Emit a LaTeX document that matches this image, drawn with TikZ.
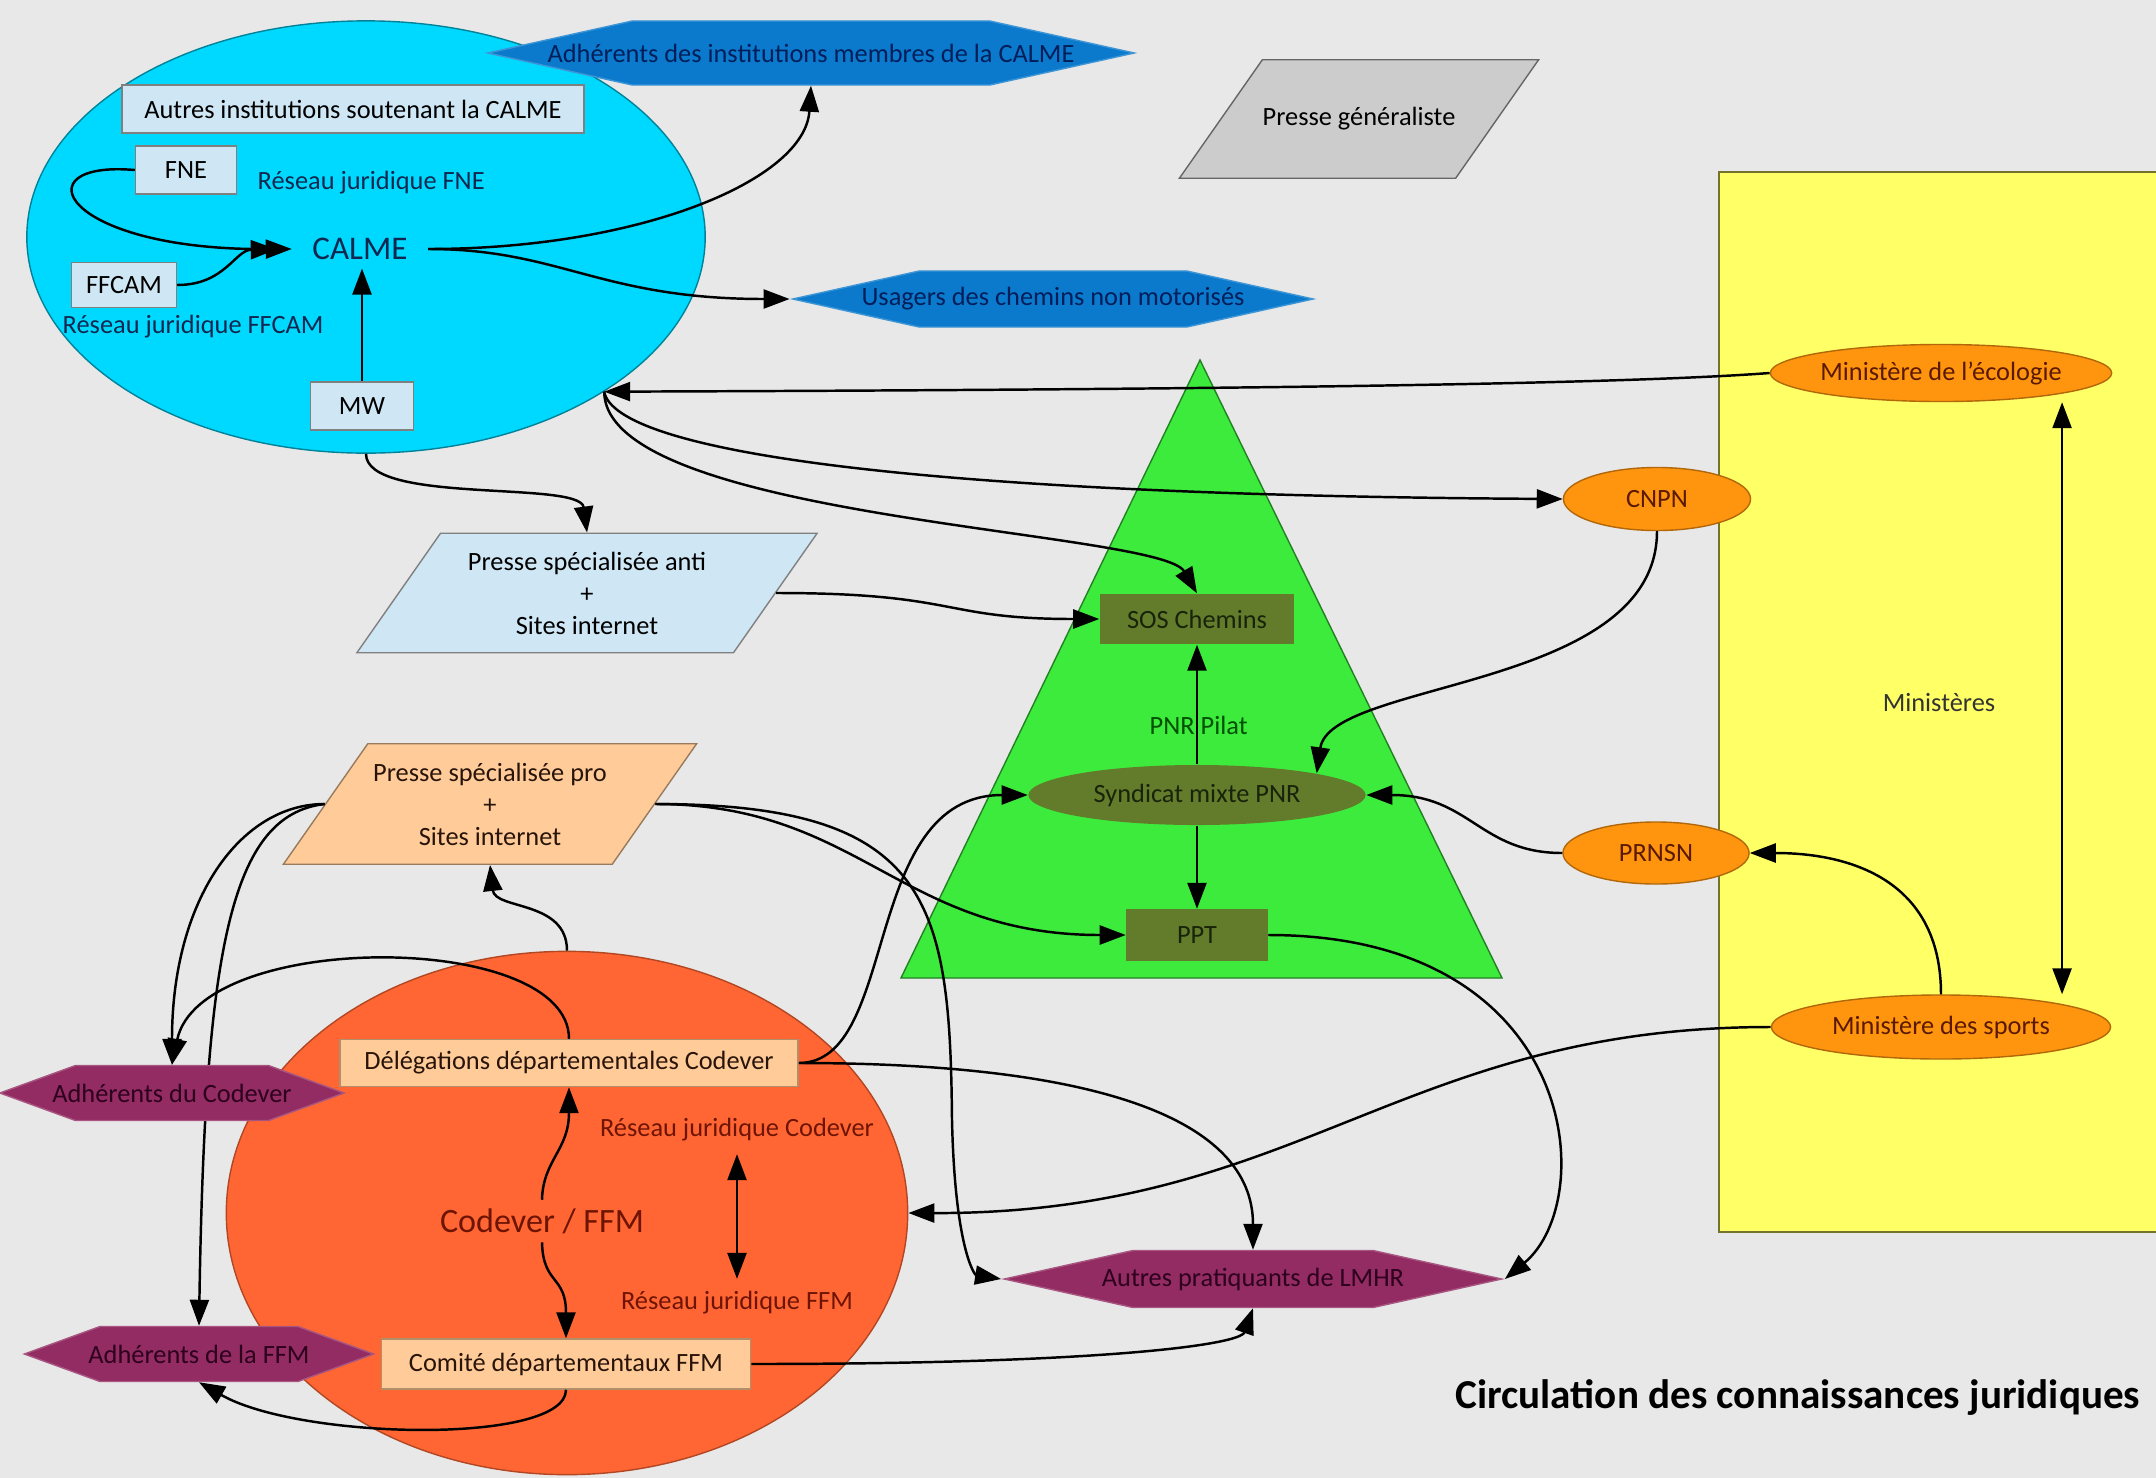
\documentclass[tikz,border=0pt]{standalone}
\usepackage{fontspec}
\setmainfont{Carlito}
\usetikzlibrary{arrows.meta, positioning, shapes.geometric, shapes.symbols}

\definecolor{bggray}{RGB}{232,232,232}
\definecolor{calmecyan}{RGB}{0,217,255}
\definecolor{calmetext}{RGB}{16,40,80}
\definecolor{paleblue}{RGB}{207,231,245}
\definecolor{hexblue}{RGB}{12,122,204}
\definecolor{navytext}{RGB}{0,30,90}
\definecolor{presgray}{RGB}{204,204,204}
\definecolor{minyellow}{RGB}{255,255,102}
\definecolor{minorange}{RGB}{255,149,14}
\definecolor{minitext}{RGB}{90,25,0}
\definecolor{pnrgreen}{RGB}{61,235,61}
\definecolor{pnrolive}{RGB}{98,124,44}
\definecolor{olivetext}{RGB}{25,35,10}
\definecolor{pnrtext}{RGB}{0,80,0}
\definecolor{peach}{RGB}{255,204,153}
\definecolor{peachtext}{RGB}{40,20,10}
\definecolor{codred}{RGB}{255,102,51}
\definecolor{codtext}{RGB}{110,20,5}
\definecolor{lmhrpurple}{RGB}{146,44,98}
\definecolor{purpletext}{RGB}{45,0,30}

\begin{document}
\begin{tikzpicture}[
    x=0.01cm, y=-0.01cm,
    lbl/.style={font=\fontsize{7.5pt}{9.1pt}\selectfont, inner sep=0pt, align=center},
    box/.style={rectangle, lbl, line width=0.4pt},
    oval/.style={ellipse, lbl, line width=0.4pt},
    hexa/.style={signal, signal to=east and west, signal pointer angle=25,
                 lbl, inner xsep=-1cm, line width=0.4pt},
    para/.style={trapezium, trapezium left angle=55, trapezium right angle=125,
                 trapezium stretches body=true, lbl, line width=0.4pt},
    arr/.style={-{Triangle[length=0.26cm, width=0.19cm]}, line width=0.7pt},
    arrboth/.style={{Triangle[length=0.26cm, width=0.19cm]}-{Triangle[length=0.26cm, width=0.19cm]},
                    line width=0.7pt}
]
  % background and frame
  \fill[bggray] (0,0) rectangle (2156,1478);
  \useasboundingbox (0,0) rectangle (2156,1478);

  % large zones
  \filldraw[fill=minyellow, draw=minyellow!45!black, line width=0.4pt]
    (1719,172) rectangle (2170,1232);
  \filldraw[fill=pnrgreen, draw=pnrgreen!55!black, line width=0.4pt]
    (1200,360) -- (1502,978) -- (901,978) -- cycle;
  \node[oval, fill=calmecyan, draw=calmecyan!60!black,
        minimum width=6.78cm, minimum height=4.32cm] (calmezone) at (366,237) {};
  \node[oval, fill=codred, draw=codred!70!black,
        minimum width=6.81cm, minimum height=5.23cm] (codzone) at (567,1213) {};

  % CALME side
  \node[box, fill=paleblue, draw=gray, minimum width=4.62cm, minimum height=0.48cm]
    (autinst) at (353,109) {Autres institutions soutenant la CALME};
  \node[box, fill=paleblue, draw=gray, minimum width=1.01cm, minimum height=0.48cm]
    (fne) at (186,170) {FNE};
  \node[box, fill=paleblue, draw=gray, minimum width=1.05cm, minimum height=0.45cm]
    (ffcam) at (124,285) {FFCAM};
  \node[box, fill=paleblue, draw=gray, minimum width=1.03cm, minimum height=0.48cm]
    (mw) at (362,406) {MW};
  \node[lbl, anchor=west, text=calmetext] (rjfne) at (257,183) {Réseau juridique FNE};
  \node[lbl, anchor=west, text=calmetext] (rjffcam) at (62,327) {Réseau juridique FFCAM};
  \node[lbl, font=\fontsize{9.4pt}{11pt}\selectfont, inner xsep=0.2cm, inner ysep=0.08cm,
        text=calmetext] (calme) at (360,249) {CALME};

  \node[hexa, fill=hexblue, draw=hexblue!80!white, text=navytext,
        minimum width=6.46cm, minimum height=0.64cm]
    (adhinst) at (811,53) {Adhérents des institutions membres de la CALME};
  \node[hexa, fill=hexblue, draw=hexblue!80!white, text=navytext,
        minimum width=5.20cm, minimum height=0.56cm]
    (usagers) at (1053,299) {Usagers des chemins non motorisés};
  \node[para, fill=presgray, draw=gray!80!black, inner ysep=0.478cm, minimum width=3.59cm]
    (presgen) at (1359,119) {Presse généraliste};
  \node[para, fill=paleblue, draw=gray, inner ysep=0.185cm, minimum width=4.60cm]
    (anti) at (587,593) {Presse spécialisée anti\\+\\Sites internet};

  % ministries
  \node[lbl, text=black!80] (ministeres) at (1939,703) {Ministères};
  \node[oval, fill=minorange, draw=minorange!70!black, text=minitext,
        minimum width=3.39cm, minimum height=0.57cm] (minieco) at (1941,373) {Ministère de l'écologie};
  \node[oval, fill=minorange, draw=minorange!70!black, text=minitext,
        minimum width=1.87cm, minimum height=0.63cm] (cnpn) at (1657,499) {CNPN};
  \node[oval, fill=minorange, draw=minorange!70!black, text=minitext,
        minimum width=1.86cm, minimum height=0.62cm] (prnsn) at (1656,853) {PRNSN};
  \node[oval, fill=minorange, draw=minorange!70!black, text=minitext,
        minimum width=3.39cm, minimum height=0.64cm] (minisport) at (1941,1027) {Ministère des sports};

  % PNR
  \node[box, fill=pnrolive, text=olivetext, minimum width=1.94cm, minimum height=0.50cm]
    (sos) at (1197,619) {SOS Chemins};
  \node[lbl, anchor=west, text=pnrtext] (pnrpilat) at (1149,725) {PNR Pilat};
  \node[oval, fill=pnrolive, text=olivetext, minimum width=3.37cm, minimum height=0.60cm]
    (syndicat) at (1197,795) {Syndicat mixte PNR};
  \node[box, fill=pnrolive, text=olivetext, minimum width=1.41cm, minimum height=0.51cm]
    (ppt) at (1197,935) {PPT};

  % Codever / FFM side
  \node[para, fill=peach, draw=peach!60!black, text=peachtext,
        inner ysep=0.19cm, minimum width=4.13cm]
    (prespro) at (490,804) {Presse spécialisée pro\\+\\Sites internet};
  \node[box, fill=peach, draw=peach!70!black, text=peachtext,
        minimum width=4.58cm, minimum height=0.47cm]
    (deleg) at (569,1063) {Délégations départementales Codever};
  \node[box, fill=peach, draw=peach!70!black, text=peachtext,
        minimum width=3.69cm, minimum height=0.50cm]
    (comite) at (566,1364) {Comité départementaux FFM};
  \node[lbl, text=codtext] (rjcod) at (737,1130) {Réseau juridique Codever};
  \node[lbl, text=codtext] (rjffm) at (737,1303) {Réseau juridique FFM};
  \node[lbl, font=\fontsize{9.7pt}{11pt}\selectfont, inner ysep=0.08cm, text=codtext]
    (codtxt) at (542,1221) {Codever / FFM};
  \node[hexa, signal pointer angle=40, fill=lmhrpurple, draw=lmhrpurple!80!white,
        text=purpletext, minimum width=3.49cm, minimum height=0.55cm]
    (adhffm) at (199,1354) {Adhérents de la FFM};
  \node[hexa, fill=lmhrpurple, draw=lmhrpurple!80!white, text=purpletext,
        minimum width=4.97cm, minimum height=0.57cm]
    (autres) at (1253,1279) {Autres pratiquants de LMHR};

  % this one runs behind the Codever members
  \draw[arr] (prespro.west) .. controls (230,815) and (205,950) .. (adhffm.north);
  \node[hexa, signal pointer angle=40, fill=lmhrpurple, draw=lmhrpurple!80!white,
        text=purpletext, minimum width=3.44cm, minimum height=0.55cm]
    (adhcod) at (172,1093) {Adhérents du Codever};

  \node[lbl, anchor=east, font=\fontsize{11.7pt}{14pt}\selectfont\bfseries]
    (title) at (2141,1397) {Circulation des connaissances juridiques};

  % connectors
  \draw[arr] (fne.west) .. controls (20,160) and (60,250) .. (calme.west);
  \draw[arr, shorten >=0.15cm] (ffcam.east) .. controls (225,285) and (235,250) .. (calme.west);
  \draw[arr] (mw.north) -- (mw.north |- calme.south);
  \draw[arr] (calme.east) .. controls (640,249) and (805,180) .. (adhinst.south);
  \draw[arr] (calme.east) .. controls (560,249) and (600,299) .. (usagers.west);
  \draw[arr] (minieco.west) .. controls (1600,386) and (1100,390) .. (calmezone.-33);
  \draw[arr] (calmezone.-33) .. controls (615,450) and (900,495) .. (cnpn.west);
  \draw[arr] (calmezone.-33) .. controls (605,520) and (1160,530) .. (sos.north);
  \draw[arr] (calmezone.south) .. controls (366,505) and (580,480) .. (anti.north);
  \draw[arr] (anti.east) .. controls (960,593) and (940,619) .. (sos.west);

  \draw[arr] (syndicat.north) -- (sos.south);
  \draw[arr] (syndicat.south) -- (ppt.north);
  \draw[arr] (cnpn.south) .. controls (1657,690) and (1330,680) .. (syndicat.north east);
  \draw[arr] (prnsn.west) .. controls (1480,853) and (1470,795) .. (syndicat.east);
  \draw[arr] (minisport.north) .. controls (1941,880) and (1850,853) .. (prnsn.east);
  \draw[arrboth] ([xshift=1.21cm]minieco.south) -- ([xshift=1.21cm]minisport.north);
  \draw[arr] (ppt.east) .. controls (1580,935) and (1600,1200) .. (autres.east);

  \draw[arr] (prespro.east) .. controls (860,804) and (900,935) .. (ppt.west);
  \draw[arr] (prespro.east) .. controls (930,804) and (950,900) .. (952,1120)
             .. controls (955,1250) and (975,1275) .. (autres.west);
  \draw[arr] (prespro.west) .. controls (240,804) and (172,900) .. (adhcod.north);
  \draw[arr] (deleg.east) .. controls (900,1063) and (860,795) .. (syndicat.west);
  \draw[arr] (deleg.east) .. controls (1100,1063) and (1253,1120) .. (autres.north);
  \draw[arr] (deleg.north) .. controls (569,930) and (200,930) .. (adhcod.north);
  \draw[arr] (codzone.north) .. controls (567,900) and (495,910) .. (prespro.south);
  \draw[arr] (minisport.west) .. controls (1400,1027) and (1300,1214) .. (codzone.east);
  \draw[arr] (comite.east) .. controls (1100,1364) and (1240,1345) .. (autres.south);
  \draw[arr] (comite.south) .. controls (566,1445) and (300,1440) .. (adhffm.south);
  \draw[arr] (codtxt.north) .. controls (543,1160) and (569,1150) .. (deleg.south);
  \draw[arr] (codtxt.south) .. controls (543,1285) and (566,1275) .. (comite.north);
  \draw[arrboth, shorten <=0.12cm, shorten >=0.12cm] (rjcod.south) -- (rjffm.north);
\end{tikzpicture}
\end{document}
